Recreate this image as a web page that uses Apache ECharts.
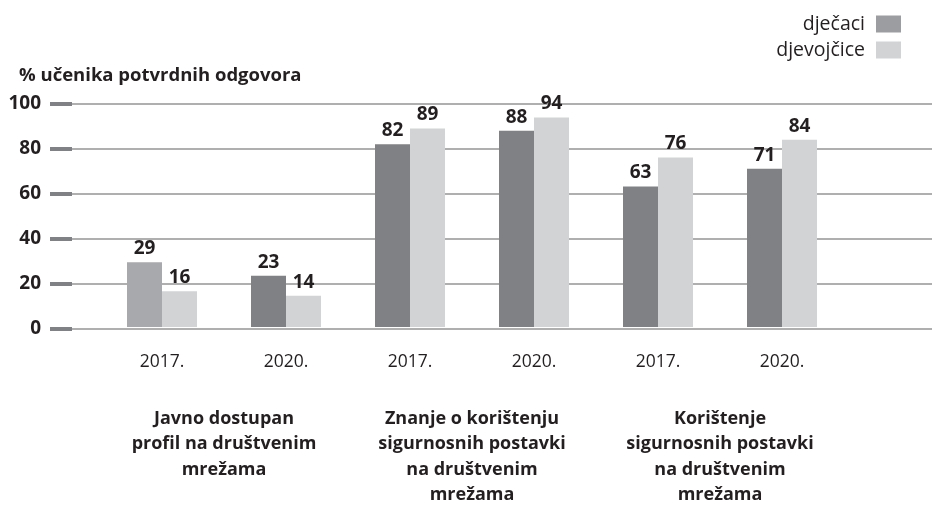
<!DOCTYPE html>
<html>
<head>
<meta charset="utf-8">
<script src="https://cdn.jsdelivr.net/npm/echarts@6/dist/echarts.min.js"></script>
<style>
  html, body { margin: 0; padding: 0; background: #fff; }
  #chart { width: 932px; height: 508px; }
</style>
</head>
<body>
<div id="chart"></div>
<script>
const years = ["2017.", "2020.", "2017.", "2020.", "2017.", "2020."];
const groups = [
  "Javno dostupan\nprofil na društvenim\nmrežama",
  "Znanje o korištenju\nsigurnosnih postavki\nna društvenim\nmrežama",
  "Korištenje\nsigurnosnih postavki\nna društvenim\nmrežama",
];
const djecaci = [29, 23, 82, 88, 63, 71];
const djevojcice = [16, 14, 89, 94, 76, 84];
const yTicks = [0, 20, 40, 60, 80, 100];

const font = "'Open Sans', sans-serif";
const ink = "#231f20";
const dark = "#808184";
const light = "#d1d3d4";

const chart = echarts.init(document.getElementById("chart"));

const barLabel = {
  show: true,
  position: "top",
  distance: 4,
  color: ink,
  fontFamily: font,
  fontWeight: "bold",
  fontSize: 19,
};

chart.setOption({
  animation: false,
  textStyle: { fontFamily: font },
  title: {
    text: "% učenika potvrdnih odgovora",
    left: 14,
    top: 61,
    textStyle: { color: ink, fontFamily: font, fontWeight: "bold", fontSize: 18.5 },
  },
  legend: {
    orient: "vertical",
    right: 26,
    top: 9,
    align: "right",
    itemWidth: 25,
    itemHeight: 17,
    itemGap: 6,
    icon: "rect",
    textStyle: { color: ink, fontFamily: font, fontSize: 19.5, padding: [0, 6, 0, 0] },
    data: [
      { name: "dječaci", itemStyle: { color: "#9c9da0" } },
      { name: "djevojčice", itemStyle: { color: light } },
    ],
  },
  grid: [
    // background grid: gridlines and ticks
    { left: 72, right: 0, top: 104, bottom: 179 },
    // bars
    { left: 100, right: 88, top: 104, bottom: 179 },
  ],
  xAxis: [
    { gridIndex: 0, type: "value", show: false },
    {
      gridIndex: 1,
      type: "category",
      data: years,
      axisLine: { show: false },
      axisTick: { show: false },
      axisLabel: { interval: 0, margin: 26, color: ink, fontFamily: font, fontSize: 17.5 },
    },
    {
      gridIndex: 1,
      type: "category",
      position: "bottom",
      data: groups,
      axisLine: { show: false },
      axisTick: { show: false },
      axisLabel: {
        interval: 0,
        margin: 79,
        color: ink,
        fontFamily: font,
        fontWeight: "bold",
        fontSize: 18,
        lineHeight: 25.5,
      },
    },
  ],
  yAxis: [
    {
      gridIndex: 0,
      type: "value",
      min: 0,
      max: 100,
      interval: 20,
      axisLine: { show: false },
      axisTick: { show: true, length: 22, lineStyle: { color: dark, width: 4 } },
      splitLine: { lineStyle: { color: "#959595", width: 1.5 } },
      axisLabel: {
        margin: 31,
        color: ink,
        fontFamily: font,
        fontWeight: "bold",
        fontSize: 19,
        customValues: yTicks,
      },
    },
    { gridIndex: 1, type: "value", min: 0, max: 100, show: false },
  ],
  series: [
    {
      name: "dječaci",
      type: "bar",
      xAxisIndex: 1,
      yAxisIndex: 1,
      barWidth: 35,
      barGap: "0%",
      itemStyle: { color: dark },
      label: barLabel,
      data: djecaci.map((v, i) => (i === 0 ? { value: v, itemStyle: { color: "#a8a9ac" } } : v)),
    },
    {
      name: "djevojčice",
      type: "bar",
      xAxisIndex: 1,
      yAxisIndex: 1,
      barWidth: 35,
      barGap: "0%",
      itemStyle: { color: light },
      label: barLabel,
      data: djevojcice,
    },
  ],
});
</script>
</body>
</html>
